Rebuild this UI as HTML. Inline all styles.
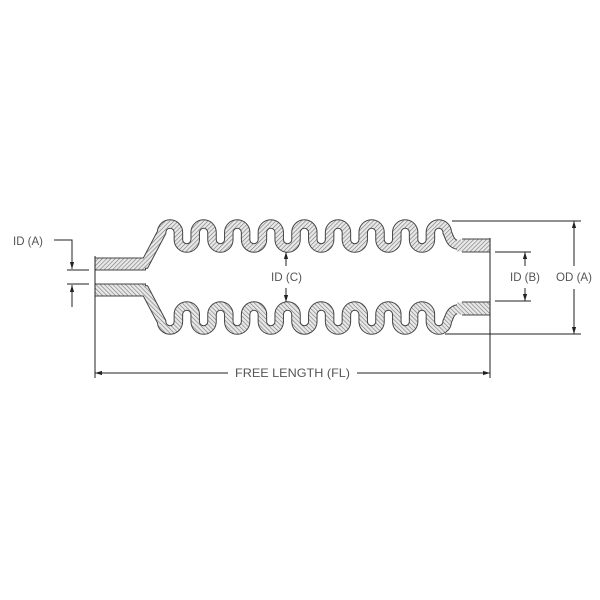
<!DOCTYPE html>
<html><head><meta charset="utf-8"><style>
html,body{margin:0;padding:0;background:#fff;}
svg{display:block;}
text{font-family:"Liberation Sans",sans-serif;fill:#555;font-size:12px;}
</style></head><body>
<svg width="600" height="600" viewBox="0 0 600 600" xmlns="http://www.w3.org/2000/svg">
<defs>
<pattern id="h" width="3" height="3" patternUnits="userSpaceOnUse" patternTransform="rotate(45)">
<rect width="3" height="3" fill="#e8e8e8"/>
<line x1="0" y1="0" x2="0" y2="3" stroke="#777" stroke-width="1.2"/>
</pattern>
<marker id="ar" viewBox="0 0 10 10" refX="10" refY="5" markerWidth="7" markerHeight="7" orient="auto-start-reverse" markerUnits="userSpaceOnUse">
<path d="M0,2 L10,5 L0,8 z" fill="#222"/>
</marker>
<path id="cl" d="M140,264 L145,264 L161.6,232.4 A8.4 8.4 0 0 1 178.4,232.4 L178.4,239.6 A8.4 8.4 0 0 0 195.2,239.6 L195.2,232.4 A8.4 8.4 0 0 1 212,232.4 L212,239.6 A8.4 8.4 0 0 0 228.8,239.6 L228.8,232.4 A8.4 8.4 0 0 1 245.6,232.4 L245.6,239.6 A8.4 8.4 0 0 0 262.4,239.6 L262.4,232.4 A8.4 8.4 0 0 1 279.2,232.4 L279.2,239.6 A8.4 8.4 0 0 0 296,239.6 L296,232.4 A8.4 8.4 0 0 1 312.8,232.4 L312.8,239.6 A8.4 8.4 0 0 0 329.6,239.6 L329.6,232.4 A8.4 8.4 0 0 1 346.4,232.4 L346.4,239.6 A8.4 8.4 0 0 0 363.2,239.6 L363.2,232.4 A8.4 8.4 0 0 1 380,232.4 L380,239.6 A8.4 8.4 0 0 0 396.8,239.6 L396.8,232.4 A8.4 8.4 0 0 1 413.6,232.4 L413.6,239.6 A8.4 8.4 0 0 0 430.4,239.6 L430.4,232.4 A8.4 8.4 0 0 1 447.2,232.4 L450,239 Q453,245.5 462,245.5 L466,245.5"/>
<g id="half">
<use href="#cl" fill="none" stroke="#444" stroke-width="9.5"/>
<line x1="95" y1="264" x2="146" y2="264" stroke="#444" stroke-width="13"/>
<line x1="462" y1="245.5" x2="490" y2="245.5" stroke="#444" stroke-width="14"/>
<use href="#cl" fill="none" stroke="url(#h)" stroke-width="7.5"/>
<line x1="95" y1="264" x2="145" y2="264" stroke="url(#h)" stroke-width="11"/>
<line x1="457" y1="245.5" x2="490" y2="245.5" stroke="url(#h)" stroke-width="12"/>
</g>
</defs>
<use href="#half"/>
<use href="#half" transform="translate(0,554) scale(1,-1)"/>
<g stroke="#222" stroke-width="1" fill="none">
<line x1="95" y1="256" x2="95" y2="378"/>
<line x1="490" y1="238" x2="490" y2="378"/>
<line x1="95" y1="373" x2="228" y2="373" marker-start="url(#ar)"/>
<line x1="357" y1="373" x2="490" y2="373" marker-end="url(#ar)"/>
<polyline points="54,240 72,240 72,269" marker-end="url(#ar)"/>
<line x1="67" y1="270" x2="89" y2="270"/>
<line x1="67" y1="284" x2="89" y2="284"/>
<line x1="72" y1="307" x2="72" y2="285" marker-end="url(#ar)"/>
<line x1="286" y1="266" x2="286" y2="252" marker-end="url(#ar)"/>
<line x1="286" y1="288" x2="286" y2="302" marker-end="url(#ar)"/>
<line x1="495" y1="252" x2="531" y2="252"/>
<line x1="495" y1="301" x2="531" y2="301"/>
<line x1="525" y1="266" x2="525" y2="252" marker-end="url(#ar)"/>
<line x1="525" y1="288" x2="525" y2="301" marker-end="url(#ar)"/>
<line x1="452" y1="221" x2="581" y2="221"/>
<line x1="445" y1="334" x2="581" y2="334"/>
<line x1="574" y1="266" x2="574" y2="221" marker-end="url(#ar)"/>
<line x1="574" y1="289" x2="574" y2="334" marker-end="url(#ar)"/>
</g>
<text x="235" y="377" textLength="115" lengthAdjust="spacingAndGlyphs" font-size="13">FREE LENGTH (FL)</text>
<text x="13" y="245" textLength="30" lengthAdjust="spacingAndGlyphs">ID (A)</text>
<text x="271" y="281" textLength="31" lengthAdjust="spacingAndGlyphs">ID (C)</text>
<text x="510" y="281" textLength="30" lengthAdjust="spacingAndGlyphs">ID (B)</text>
<text x="556" y="281" textLength="36" lengthAdjust="spacingAndGlyphs">OD (A)</text>
</svg>
</body></html>
